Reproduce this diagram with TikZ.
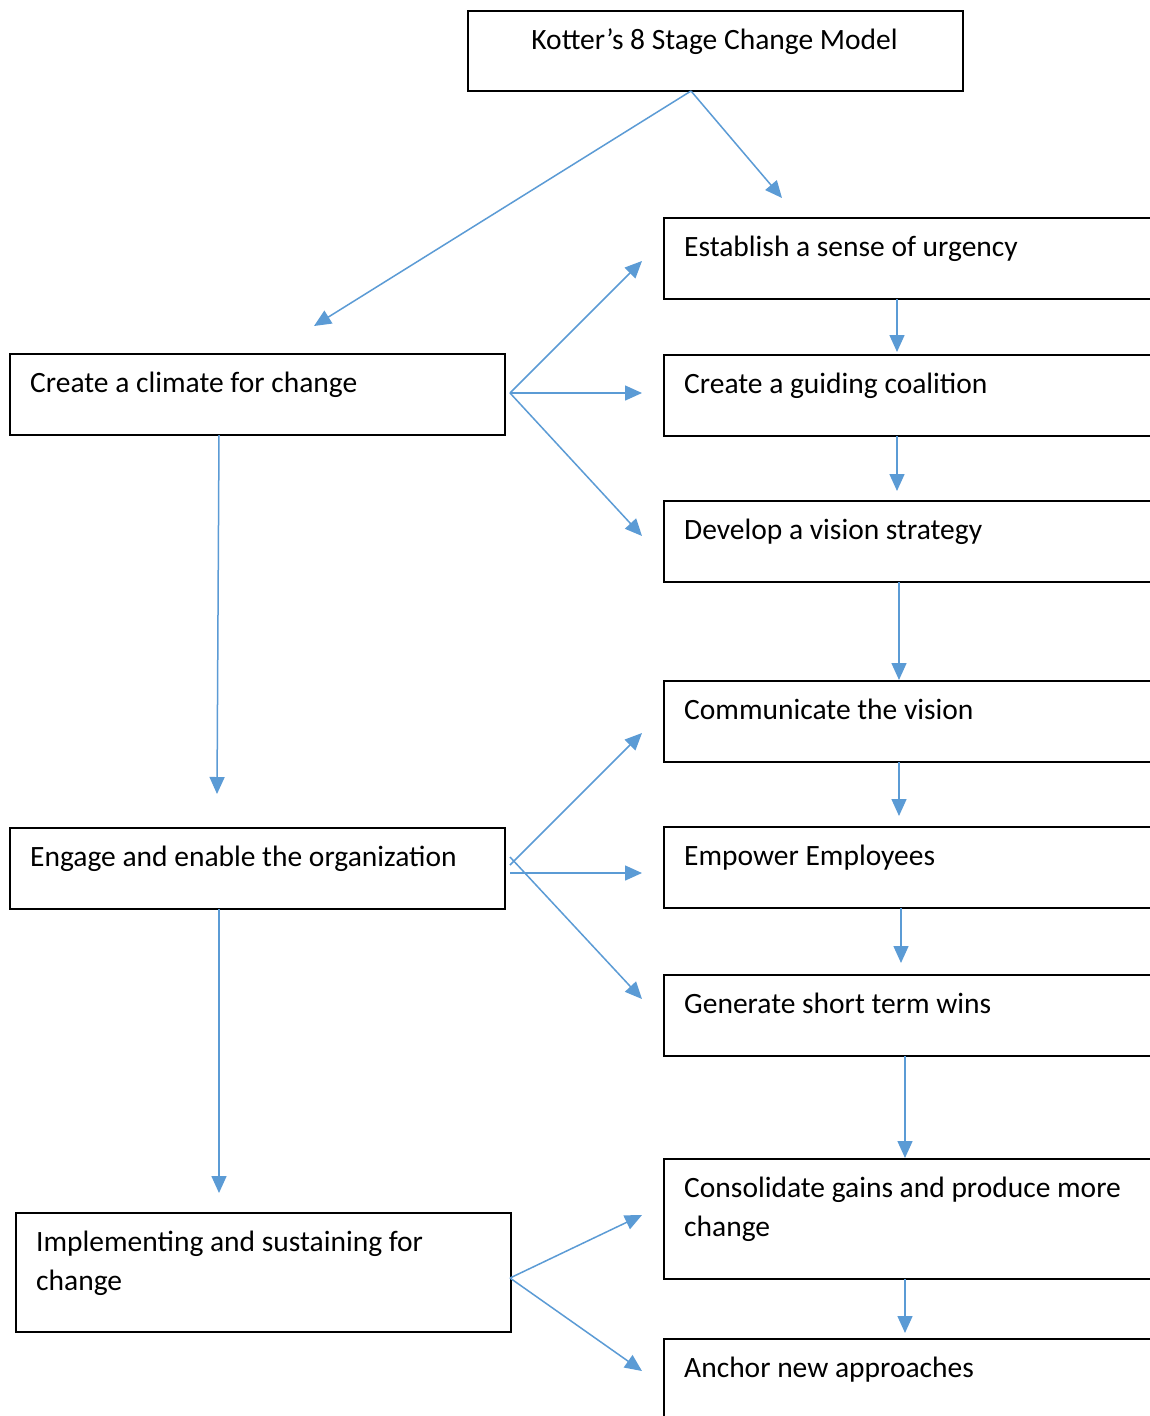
\documentclass[tikz,border=0pt]{standalone}
\usepackage{fontspec}
\setmainfont{Carlito}
\usetikzlibrary{arrows.meta}
\definecolor{arrblue}{HTML}{5B9BD5}
\begin{document}
\begin{tikzpicture}[x=1pt,y=-1pt,
  box/.style={draw=black,line width=2pt,anchor=north west,inner sep=0pt},
  lbl/.style={anchor=base west,inner sep=0pt,align=left,font=\fontsize{29.5}{39}\selectfont},
  arr/.style={draw=arrblue,line width=1.5pt,-{Triangle[length=17pt,width=15pt]}}]
\useasboundingbox (0,0) rectangle (1150,1416);
\clip (0,0) rectangle (1150,1416);
\fill[white] (0,0) rectangle (1150,1416);
% title
\node[box,minimum width=495,minimum height=80] (t) at (467,10) {};
\node[lbl,anchor=base] (tt) at (714.5,49) {Kotter’s 8 Stage Change Model};
% left boxes
\node[box,minimum width=495,minimum height=81] (c) at (9,353) {};
\node[lbl] (ct) at (30,392) {Create a climate for change};
\node[box,minimum width=495,minimum height=81] (g) at (9,827) {};
\node[lbl] (gt) at (30,866) {Engage and enable the organization};
\node[box,minimum width=495,minimum height=119] (m) at (15,1212) {};
\node[lbl] (mt) at (36,1290) {Implementing and sustaining for\\change};
% right boxes
\node[box,minimum width=520,minimum height=81] (r1) at (663,217) {};
\node[lbl] (r1t) at (684,256) {Establish a sense of urgency};
\node[box,minimum width=520,minimum height=81] (r2) at (663,354) {};
\node[lbl] (r2t) at (684,393) {Create a guiding coalition};
\node[box,minimum width=520,minimum height=81] (r3) at (663,500) {};
\node[lbl] (r3t) at (684,539) {Develop a vision strategy};
\node[box,minimum width=520,minimum height=81] (r4) at (663,680) {};
\node[lbl] (r4t) at (684,719) {Communicate the vision};
\node[box,minimum width=520,minimum height=81] (r5) at (663,826) {};
\node[lbl] (r5t) at (684,865) {Empower Employees};
\node[box,minimum width=520,minimum height=81] (r6) at (663,974) {};
\node[lbl] (r6t) at (684,1013) {Generate short term wins};
\node[box,minimum width=520,minimum height=120] (r7) at (663,1158) {};
\node[lbl] (r7t) at (684,1236) {Consolidate gains and produce more\\change};
\node[box,minimum width=520,minimum height=120] (r8) at (663,1338) {};
\node[lbl] (r8t) at (684,1377) {Anchor new approaches};
% connector coordinates
\coordinate (tS) at (691,91);
\coordinate (tE1) at (782,198);
\coordinate (tE2) at (314,326);
\coordinate (cS) at (510,393);
\coordinate (cE1) at (642,261);
\coordinate (cE2) at (642,393);
\coordinate (cE3) at (642,536);
\coordinate (cD1) at (219,435);
\coordinate (cD2) at (217,794);
\coordinate (gS1) at (510,865);
\coordinate (gS2) at (510,873);
\coordinate (gS3) at (510,857);
\coordinate (gE1) at (642,733);
\coordinate (gE2) at (642,873);
\coordinate (gE3) at (642,999);
\coordinate (gD1) at (219,909);
\coordinate (gD2) at (219,1193);
\coordinate (mS) at (510,1278);
\coordinate (mE1) at (642,1215);
\coordinate (mE2) at (642,1371);
\coordinate (v1a) at (897,299);  \coordinate (v1b) at (897,352);
\coordinate (v2a) at (897,436);  \coordinate (v2b) at (897,491);
\coordinate (v3a) at (899,582);  \coordinate (v3b) at (899,680);
\coordinate (v4a) at (899,762);  \coordinate (v4b) at (899,816);
\coordinate (v5a) at (901,908);  \coordinate (v5b) at (901,963);
\coordinate (v6a) at (905,1056); \coordinate (v6b) at (905,1158);
\coordinate (v7a) at (905,1279); \coordinate (v7b) at (905,1333);
% connectors
\draw[arr] (tS) -- (tE1);
\draw[arr] (tS) -- (tE2);
\draw[arr] (cS) -- (cE1);
\draw[arr] (cS) -- (cE2);
\draw[arr] (cS) -- (cE3);
\draw[arr] (cD1) -- (cD2);
\draw[arr] (gS1) -- (gE1);
\draw[arr] (gS2) -- (gE2);
\draw[arr] (gS3) -- (gE3);
\draw[arr] (gD1) -- (gD2);
\draw[arr] (mS) -- (mE1);
\draw[arr] (mS) -- (mE2);
\draw[arr] (v1a) -- (v1b);
\draw[arr] (v2a) -- (v2b);
\draw[arr] (v3a) -- (v3b);
\draw[arr] (v4a) -- (v4b);
\draw[arr] (v5a) -- (v5b);
\draw[arr] (v6a) -- (v6b);
\draw[arr] (v7a) -- (v7b);
\end{tikzpicture}
\end{document}
